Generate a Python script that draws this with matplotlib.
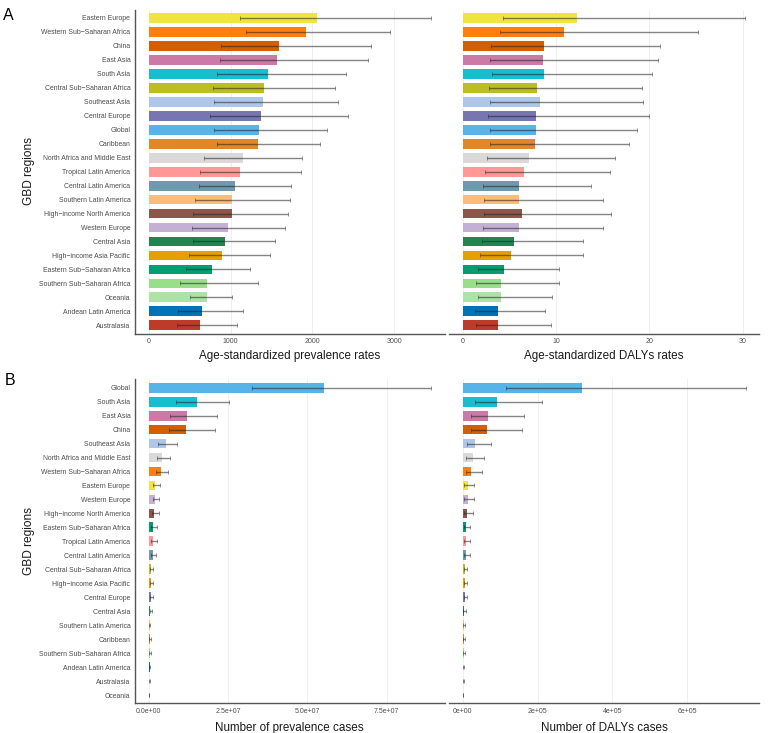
import matplotlib
matplotlib.use("Agg")
import matplotlib.pyplot as plt
from matplotlib.ticker import FuncFormatter

plt.rcParams['font.family'] = ['Liberation Sans', 'DejaVu Sans']

# panel A, sorted by prevalence rate
regions_a = ["Eastern Europe", "Western Sub−Saharan Africa", "China", "East Asia", "South Asia",
             "Central Sub−Saharan Africa", "Southeast Asia", "Central Europe", "Global", "Caribbean",
             "North Africa and Middle East", "Tropical Latin America", "Central Latin America",
             "Southern Latin America", "High−income North America", "Western Europe", "Central Asia",
             "High−income Asia Pacific", "Eastern Sub−Saharan Africa", "Southern Sub−Saharan Africa",
             "Oceania", "Andean Latin America", "Australasia"]
prev_rate = [2055, 1917, 1587, 1571, 1461, 1408, 1396, 1372, 1351, 1331, 1152, 1111,
             1050, 1018, 1013, 973, 932, 895, 777, 716, 712, 655, 623]
prev_rate_lo = [1119, 1192, 883, 875, 830, 790, 802, 745, 802, 838, 680, 631,
                619, 570, 545, 533, 537, 488, 456, 379, 501, 362, 350]
prev_rate_hi = [3443, 2947, 2711, 2674, 2405, 2271, 2308, 2430, 2173, 2088, 1868, 1860,
                1734, 1722, 1705, 1661, 1543, 1486, 1241, 1331, 1013, 1148, 1079]
daly_rate = [12.23, 10.80, 8.69, 8.58, 8.69, 7.90, 8.22, 7.79, 7.87, 7.76, 7.04, 6.54,
             5.97, 6.04, 6.29, 6.04, 5.47, 5.18, 4.40, 4.11, 4.11, 3.72, 3.79]
daly_rate_lo = [4.29, 3.97, 2.97, 2.93, 3.15, 2.75, 2.93, 2.72, 2.86, 2.93, 2.61, 2.40,
                2.18, 2.22, 2.22, 2.18, 2.07, 1.86, 1.64, 1.43, 1.57, 1.32, 1.43]
daly_rate_hi = [30.28, 25.17, 21.09, 20.92, 20.24, 19.20, 19.27, 19.91, 18.63, 17.84, 16.27, 15.80,
                13.69, 15.05, 15.84, 14.98, 12.84, 12.91, 10.26, 10.26, 9.51, 8.80, 9.40]

# panel B, sorted by prevalence cases
regions_b = ["Global", "South Asia", "East Asia", "China", "Southeast Asia", "North Africa and Middle East",
             "Western Sub−Saharan Africa", "Eastern Europe", "Western Europe", "High−income North America",
             "Eastern Sub−Saharan Africa", "Tropical Latin America", "Central Latin America",
             "Central Sub−Saharan Africa", "High−income Asia Pacific", "Central Europe", "Central Asia",
             "Southern Latin America", "Caribbean", "Southern Sub−Saharan Africa", "Andean Latin America",
             "Australasia", "Oceania"]
prev_num = [5.51e7, 1.525e7, 1.22e7, 1.19e7, 5.36e6, 4.2e6, 3.89e6, 2.0e6, 2.0e6, 1.79e6, 1.47e6, 1.37e6,
            1.37e6, 8.4e5, 8.4e5, 7.4e5, 5.3e5, 3.2e5, 3.2e5, 3.3e5, 2.8e5, 1.7e5, 6e4]
prev_num_lo = [3.27e7, 8.73e6, 6.63e6, 6.52e6, 3.05e6, 2.52e6, 2.42e6, 1.26e6, 1.26e6, 9.5e5, 8.4e5, 7.4e5,
               7.4e5, 5.3e5, 4.2e5, 4.2e5, 3.2e5, 1.8e5, 1.8e5, 1.9e5, 1.6e5, 9e4, 4e4]
prev_num_hi = [8.90e7, 2.524e7, 2.146e7, 2.08e7, 8.94e6, 6.63e6, 6.0e6, 3.47e6, 3.37e6, 3.16e6, 2.52e6, 2.52e6,
               2.31e6, 1.47e6, 1.47e6, 1.37e6, 1.05e6, 5.5e5, 6e5, 6.6e5, 5e5, 3e5, 1.1e5]
daly_num = [3.2e5, 9.12e4, 6.7e4, 6.53e4, 3.22e4, 2.68e4, 2.32e4, 1.34e4, 1.3e4, 1.25e4, 9.8e3, 9e3,
            9e3, 5.4e3, 5.4e3, 5.2e3, 3.6e3, 2.2e3, 2.2e3, 2.2e3, 1.7e3, 1e3, 4e2]
daly_num_lo = [1.162e5, 3.31e4, 2.24e4, 2.24e4, 1.16e4, 8.9e3, 8.9e3, 4.5e3, 4.5e3, 4.5e3, 4e3, 3.6e3,
               3.2e3, 2e3, 2e3, 2e3, 1.5e3, 8e2, 9e2, 8e2, 7e2, 4e2, 2e2]
daly_num_hi = [7.57e5, 2.11e5, 1.627e5, 1.573e5, 7.6e4, 5.81e4, 5.27e4, 3.13e4, 3.13e4, 2.86e4, 2.06e4, 2.06e4,
               2e4, 1.25e4, 1.25e4, 1.25e4, 7.5e3, 6e3, 5.5e3, 5.3e3, 4e3, 2.5e3, 1e3]

colors = {"Eastern Europe": "#F0E442", "Western Sub−Saharan Africa": "#FF7F0E", "China": "#D55E00",
          "East Asia": "#CC79A7", "South Asia": "#17BECF", "Central Sub−Saharan Africa": "#BCBD22",
          "Southeast Asia": "#AEC7E8", "Central Europe": "#7876B1", "Global": "#56B4E9",
          "Caribbean": "#E18727", "North Africa and Middle East": "#D9D9D9",
          "Tropical Latin America": "#FF9896", "Central Latin America": "#6F99AD",
          "Southern Latin America": "#FFBB78", "High−income North America": "#8C564B",
          "Western Europe": "#C5B0D5", "Central Asia": "#20854E", "High−income Asia Pacific": "#E69F00",
          "Eastern Sub−Saharan Africa": "#009E73", "Southern Sub−Saharan Africa": "#98DF8A",
          "Oceania": "#ADE2A6", "Andean Latin America": "#0072B5", "Australasia": "#BC3C29"}

W, H = 773, 733
fig = plt.figure(figsize=(W / 100, H / 100), dpi=100)


def panel(x0, x1, y0, y1):
    # pixel box, measured from the top left of the picture
    return fig.add_axes([x0 / W, 1 - y1 / H, (x1 - x0) / W, (y1 - y0) / H])


def draw(ax, regions, vals, lo, hi, xlim, ticks, xlabel, first=False, fmt=None, labelpad=3.8):
    ypos = list(range(len(regions)))
    ax.barh(ypos, vals, height=0.7, color=[colors[r] for r in regions], zorder=2)
    xerr = [[v - l for v, l in zip(vals, lo)], [h - v for v, h in zip(vals, hi)]]
    ax.errorbar(vals, ypos, xerr=xerr, fmt='none', ecolor='#222222', alpha=0.55,
                elinewidth=1.0, capsize=1.3, capthick=0.6, zorder=3)
    ax.set_ylim(len(regions) - 0.4, -0.6)
    ax.set_xlim(*xlim)
    ax.set_xticks(ticks)
    if fmt:
        ax.xaxis.set_major_formatter(FuncFormatter(fmt))
    ax.grid(axis='x', color='#EDEDED', linewidth=0.6, zorder=0)
    ax.set_axisbelow(True)
    for s in ['top', 'right']:
        ax.spines[s].set_visible(False)
    ax.spines['bottom'].set_color('#555555')
    ax.spines['bottom'].set_linewidth(1.0)
    ax.tick_params(axis='x', length=0, labelsize=5.0, labelcolor='#4D4D4D', pad=3)
    ax.set_xlabel(xlabel, fontsize=8.4, color='#1A1A1A', labelpad=labelpad)
    if first:
        ax.set_yticks(ypos)
        ax.set_yticklabels(regions)
        ax.tick_params(axis='y', length=0, labelsize=4.95, labelcolor='#4D4D4D', pad=3)
        ax.spines['left'].set_color('#555555')
        ax.spines['left'].set_linewidth(1.0)
    else:
        ax.set_yticks([])
        ax.spines['left'].set_visible(False)


ax1 = panel(134.5, 445, 9.6, 333.7)
draw(ax1, regions_a, prev_rate, prev_rate_lo, prev_rate_hi, (-173, 3618), [0, 1000, 2000, 3000],
     "Age-standardized prevalence rates", first=True)
ax2 = panel(449.3, 759, 9.6, 333.7)
draw(ax2, regions_a, daly_rate, daly_rate_lo, daly_rate_hi, (-1.47, 31.76), [0, 10, 20, 30],
     "Age-standardized DALYs rates")
ax3 = panel(134.5, 445, 379.3, 703.4)
draw(ax3, regions_b, prev_num, prev_num_lo, prev_num_hi, (-4.48e6, 9.34e7), [0, 2.5e7, 5e7, 7.5e7],
     "Number of prevalence cases", first=True, fmt=lambda v, p: f"{v:.1e}", labelpad=5)
ax4 = panel(449.3, 759, 379.3, 703.4)
draw(ax4, regions_b, daly_num, daly_num_lo, daly_num_hi, (-3.6e4, 7.92e5), [0, 2e5, 4e5, 6e5],
     "Number of DALYs cases", fmt=lambda v, p: f"{v:.0e}", labelpad=5)

fig.text(29 / W, 1 - 171 / H, "GBD regions", rotation=90, ha='center', va='center', fontsize=8.6, color='#1A1A1A')
fig.text(29 / W, 1 - 541 / H, "GBD regions", rotation=90, ha='center', va='center', fontsize=8.6, color='#1A1A1A')
fig.text(3 / W, 1 - 20 / H, "A", fontsize=11.5, color='black')
fig.text(4.5 / W, 1 - 385 / H, "B", fontsize=11.5, color='black')

fig.savefig("out.png", dpi=100)
